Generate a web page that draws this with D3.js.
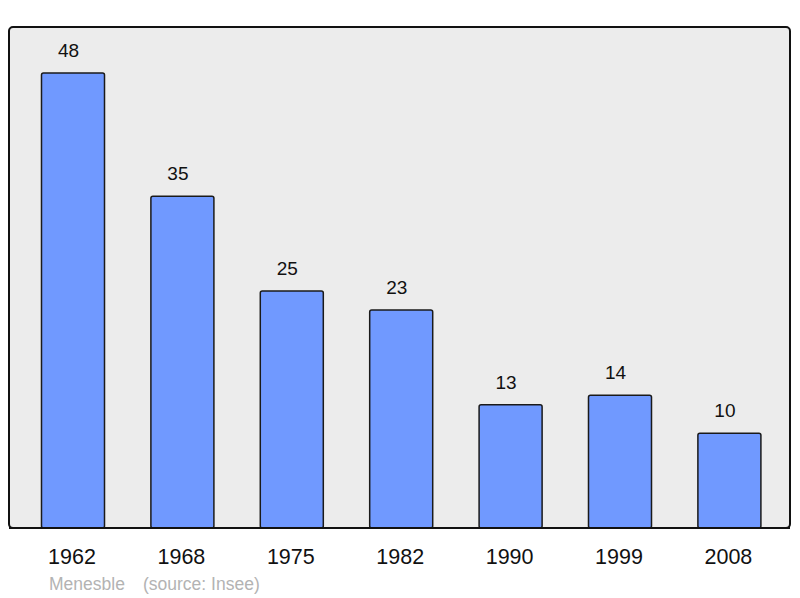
<!DOCTYPE html>
<html><head><meta charset="utf-8">
<script src="https://cdn.jsdelivr.net/npm/d3@7"></script>
<style>body{margin:0;background:#fff}svg{display:block}</style>
</head><body>
<script>
const years = ["1962","1968","1975","1982","1990","1999","2008"];
const population = [48,35,25,23,13,14,10];
const sourceText = ["Menesble", "(source: Insee)"];

const W = 800, H = 598;
const svg = d3.select("body").append("svg").attr("width", W).attr("height", H);
const font = "Liberation Sans, Arial, sans-serif";

svg.append("rect").attr("x",9).attr("y",27).attr("width",781).attr("height",501)
  .attr("rx",4).attr("fill","#ececec").attr("stroke","#111").attr("stroke-width",2);

const x = d3.scaleBand().domain(years).range([18.3, 784.1]).paddingInner(0.424).paddingOuter(0.212);
const y = d3.scaleLinear().domain([0,48]).range([528,73]);

const data = years.map((yr,i)=>({yr, v: population[i]}));

svg.selectAll("rect.bar").data(data).enter().append("rect").attr("class","bar")
  .attr("x", d=>x(d.yr)).attr("width", x.bandwidth())
  .attr("y", d=>y(d.v)).attr("height", d=>y(0)-y(d.v))
  .attr("rx",2).attr("fill","#7099ff").attr("stroke","#1a1a1a").attr("stroke-width",1.5);

svg.selectAll("text.val").data(data).enter().append("text").attr("class","val")
  .attr("x", d=>x(d.yr)+x.bandwidth()/2-4.5).attr("y", d=>y(d.v)-16)
  .attr("text-anchor","middle").attr("font-family",font).attr("font-size",19)
  .attr("fill","#111").text(d=>d.v);

svg.append("line").attr("x1",9).attr("x2",790).attr("y1",528).attr("y2",528)
  .attr("stroke","#111").attr("stroke-width",2);

const xAxis = d3.axisBottom(x).tickSize(0).tickPadding(0);
const g = svg.append("g").attr("transform","translate(-1,549)").call(xAxis);
g.select(".domain").remove();
g.selectAll("text").attr("font-family",font).attr("font-size",21.5).attr("fill","#111").attr("dy","0.71em");

svg.append("text").attr("x",49).attr("y",590).attr("font-family",font).attr("font-size",17.5)
  .attr("fill","#b3b3b3").text(sourceText[0]);
svg.append("text").attr("x",143).attr("y",590).attr("font-family",font).attr("font-size",17.5)
  .attr("fill","#b3b3b3").text(sourceText[1]);
</script>
</body></html>
